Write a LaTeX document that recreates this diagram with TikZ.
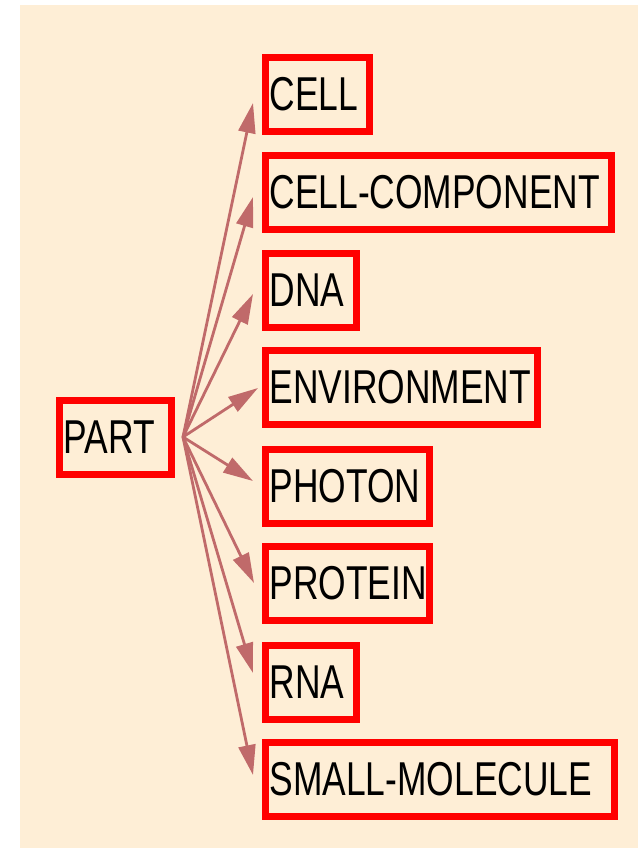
\documentclass[tikz,border=0pt]{standalone}
\usepackage{fontspec}
\setmainfont{Liberation Sans}[FakeStretch=0.745]
\usetikzlibrary{arrows.meta,calc}
\definecolor{bgc}{RGB}{254,238,214}
\definecolor{edgec}{RGB}{192,106,106}
\begin{document}
\begin{tikzpicture}[x=1pt,y=-1pt,
  termbox/.style={draw=red, line width=7pt, anchor=west, minimum height=74pt,
    inner xsep=4pt, inner ysep=0pt, font=\fontsize{47.5}{50}\selectfont,
    text width=#1-15pt, align=left},
  edge/.style={draw=edgec, line width=2.8pt, -{Triangle[length=30pt,width=17pt]}}]
\useasboundingbox (0,0) rectangle (638,848);
\fill[bgc] (20,5) rectangle (638,848);
\node[termbox=119pt] (part) at (56,437) {\mbox{PART}};
\node[termbox=111pt] (cell) at (262,94.5) {\mbox{CELL}};
\node[termbox=353pt] (cellcomp) at (262,192.5) {\mbox{CELL-COMPONENT}};
\node[termbox=98pt] (dna) at (262,290) {\mbox{DNA}};
\node[termbox=279pt] (env) at (262,387.5) {\mbox{ENVIRONMENT}};
\node[termbox=171pt] (photon) at (262,486) {\mbox{PHOTON}};
\node[termbox=171pt] (protein) at (262,583.5) {\mbox{PROTEIN}};
\node[termbox=98pt] (rna) at (262,682) {\mbox{RNA}};
\node[termbox=356pt] (smallmol) at (262,779) {\mbox{SMALL-MOLECULE}};
\coordinate (src) at ([shift={(8,0)}]part.east);
\draw[edge] (src) -- ([shift={(-9,8.5)}]cell.west);
\draw[edge] (src) -- ([shift={(-9,4.5)}]cellcomp.west);
\draw[edge] (src) -- ([shift={(-9,4)}]dna.west);
\draw[edge] (src) -- ([shift={(-4,0.5)}]env.west);
\draw[edge] (src) -- ([shift={(-9,-5)}]photon.west);
\draw[edge] (src) -- ([shift={(-8,-0.5)}]protein.west);
\draw[edge] (src) -- ([shift={(-9,-9)}]rna.west);
\draw[edge] (src) -- ([shift={(-9,-4)}]smallmol.west);
\end{tikzpicture}
\end{document}
